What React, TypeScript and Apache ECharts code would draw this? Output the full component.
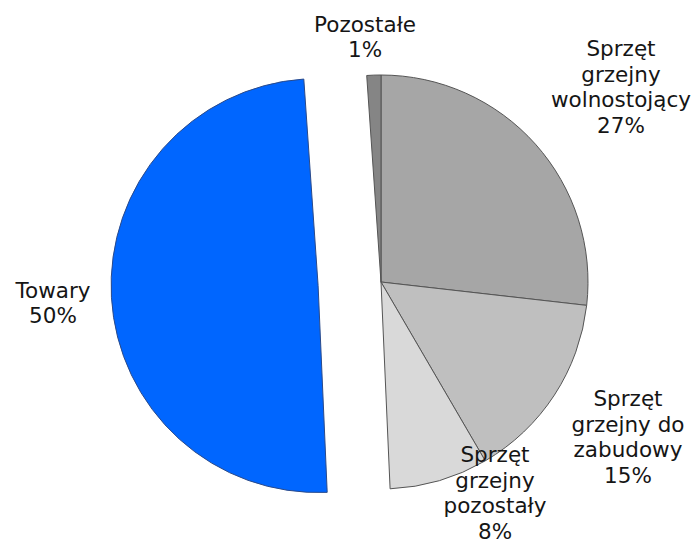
import React, { useEffect, useRef } from "react";
import * as echarts from "echarts";

const categories = [
  "Sprzęt grzejny wolnostojący",
  "Sprzęt grzejny do zabudowy",
  "Sprzęt grzejny pozostały",
  "Towary",
  "Pozostałe",
];
const labelNames = [
  "Sprzęt\ngrzejny\nwolnostojący",
  "Sprzęt\ngrzejny do\nzabudowy",
  "Sprzęt\ngrzejny\npozostały",
  "Towary",
  "Pozostałe",
];
const values = [26.8, 14.8, 7.7, 49.6, 1.1];
const colors = ["#a6a6a6", "#bfbfbf", "#d9d9d9", "#0066ff", "#858585"];
const explodedIndex = 3;
const labelPositions: [number, number][] = [
  [621, 87],
  [628, 437],
  [495, 493],
  [53, 303],
  [365, 37],
];

const CX = 381;
const CY = 282;
const R = 207;
const EXPLODE = 63;

export default function App() {
  const ref = useRef<HTMLDivElement>(null);
  useEffect(() => {
    if (!ref.current) return;
    const chart = echarts.init(ref.current, undefined, { renderer: "svg" });

    const total = values.reduce((a, b) => a + b, 0);
    const before = values.slice(0, explodedIndex).reduce((a, b) => a + b, 0);
    const midDeg = ((before + values[explodedIndex] / 2) / total) * 360;
    const midRad = (midDeg * Math.PI) / 180;
    const ex = CX + Math.sin(midRad) * EXPLODE;
    const ey = CY - Math.cos(midRad) * EXPLODE;

    const labelBase = {
      show: true,
      position: "outside",
      bleedMargin: 0,
      overflow: "none",
      fontFamily: "DejaVu Sans",
      fontSize: 21.5,
      lineHeight: 25.5,
      color: "#151515",
      align: "center",
      formatter: (p: any) =>
        labelNames[p.dataIndex] + "\n" + Math.round(p.percent) + "%",
    };
    const layoutFn = (p: any) => {
      const pos = labelPositions[p.dataIndex];
      return { x: pos[0], y: pos[1], align: "center", verticalAlign: "middle" };
    };
    const makeData = (visible: (i: number) => boolean) =>
      categories.map((name, i) => {
        const vis = visible(i);
        return {
          name,
          value: values[i],
          itemStyle: vis
            ? {
                color: colors[i],
                borderColor: i === explodedIndex ? "#2a4a8a" : "#555555",
                borderWidth: 1,
              }
            : { color: "rgba(0,0,0,0)", borderWidth: 0 },
          label: { show: vis },
        };
      });

    const common = {
      type: "pie",
      radius: R,
      startAngle: 90,
      clockwise: true,
      avoidLabelOverlap: false,
      silent: true,
      emphasis: { disabled: true },
      label: labelBase,
      labelLine: { show: false, length: 0, length2: 0 },
      labelLayout: layoutFn,
    };

    chart.setOption({
      animation: false,
      backgroundColor: "#ffffff",
      series: [
        {
          ...common,
          center: [CX, CY],
          data: makeData((i) => i !== explodedIndex),
        },
        {
          ...common,
          center: [ex, ey],
          data: makeData((i) => i === explodedIndex),
        },
      ],
    });
    return () => chart.dispose();
  }, []);
  return (
    <div
      ref={ref}
      style={{ position: "fixed", left: 0, top: 0, width: 695, height: 544 }}
    />
  );
}
